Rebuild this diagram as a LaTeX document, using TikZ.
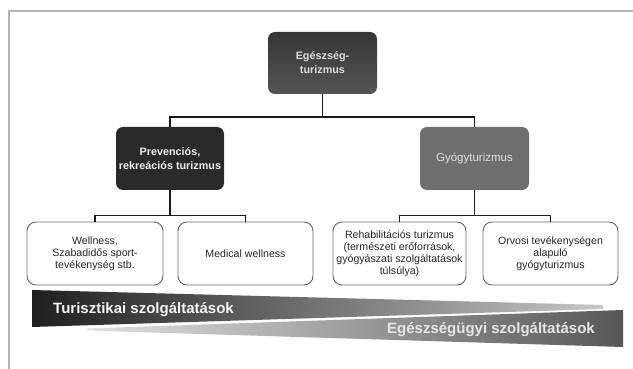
\documentclass[tikz,border=0pt]{standalone}
\usepackage{fontspec}
\setmainfont{Liberation Sans}
\usetikzlibrary{calc}
\definecolor{framec}{HTML}{B4B4B4}
\definecolor{topA}{HTML}{363636}
\definecolor{topB}{HTML}{555555}
\definecolor{prevc}{HTML}{2A2A2A}
\definecolor{gyogyc}{HTML}{6E6E6E}
\definecolor{boxline}{HTML}{666666}
\definecolor{txtlight}{HTML}{DADADA}
\tikzset{
  darkbox/.style={rounded corners=7pt, inner sep=0pt, align=center,
    minimum width=109pt, minimum height=63pt,
    font=\fontsize{10.8}{14}\selectfont\bfseries, text=txtlight},
  whitebox/.style={draw=boxline, fill=white, line width=0.9pt, rounded corners=9pt,
    inner sep=0pt, align=center, minimum height=63pt,
    font=\fontsize{10.6}{12}\selectfont, text=black!85},
  conn/.style={draw=black!90, line width=1.5pt},
  bandtext/.style={font=\fontsize{15}{18}\selectfont\bfseries, inner sep=0pt, anchor=base west}
}
\begin{document}
\begin{tikzpicture}[x=1pt,y=-1pt]
\useasboundingbox (0,0) rectangle (633,369);
\fill[white] (0,0) rectangle (633,369);
% frame
\draw[framec, line width=2pt] (9,369) -- (9,11.5) -- (633,11.5);

% top level
\node[darkbox, top color=topA, bottom color=topB, minimum height=62pt] (top) at (322.5,63) {Egészség-\\turizmus};
\node[darkbox, fill=prevc, minimum width=108pt, text=white!92!black] (prev) at (170,158.5) {Prevenciós,\\rekreációs turizmus};
\node[darkbox, fill=gyogyc, font=\fontsize{11.5}{14}\selectfont, text=white!88!black] (gyogy) at (474.5,158.5) {Gyógyturizmus};

% leaves
\node[whitebox, minimum width=136pt] (well) at (95,253.5) {Wellness,\\Szabadidős sport-\\tevékenység stb.};
\node[whitebox, minimum width=135pt] (med) at (245.5,253.5) {Medical wellness};
\node[whitebox, minimum width=133pt] (rehab) at (399.5,253.5) {Rehabilitációs turizmus\\(természeti erőforrások,\\gyógyászati szolgáltatások\\túlsúlya)};
\node[whitebox, minimum width=135pt] (orv) at (550.5,253.5) {Orvosi tevékenységen\\alapuló\\gyógyturizmus};

% connectors
\draw[conn] (top.south) -- (top.south |- 0,117);
\draw[conn] (prev.north) -- ++(0,-10) -| (gyogy.north);
\draw[conn] (prev.south) -- (prev.south |- 0,216);
\draw[conn] (well.north) -- ++(0,-6) -| (med.north);
\draw[conn] (gyogy.south) -- (gyogy.south |- 0,216);
\draw[conn] (rehab.north) -- ++(0,-6) -| (orv.north);

% bands
\shade[left color=black!88, middle color=black!68, right color=black!22]
  (32,290) -- (603,305) -- (603,309) -- (32,327) -- cycle;
\shade[left color=black!12, middle color=black!40, right color=black!66]
  (87,328.5) -- (623,310) -- (623,347) -- (87,330.5) -- cycle;
\node[bandtext, text=white!95!black] (t1) at (53,313) {Turisztikai szolgáltatások};
\node[bandtext, text=white!90!black] (t2) at (387,333) {Egészségügyi szolgáltatások};
\end{tikzpicture}
\end{document}
